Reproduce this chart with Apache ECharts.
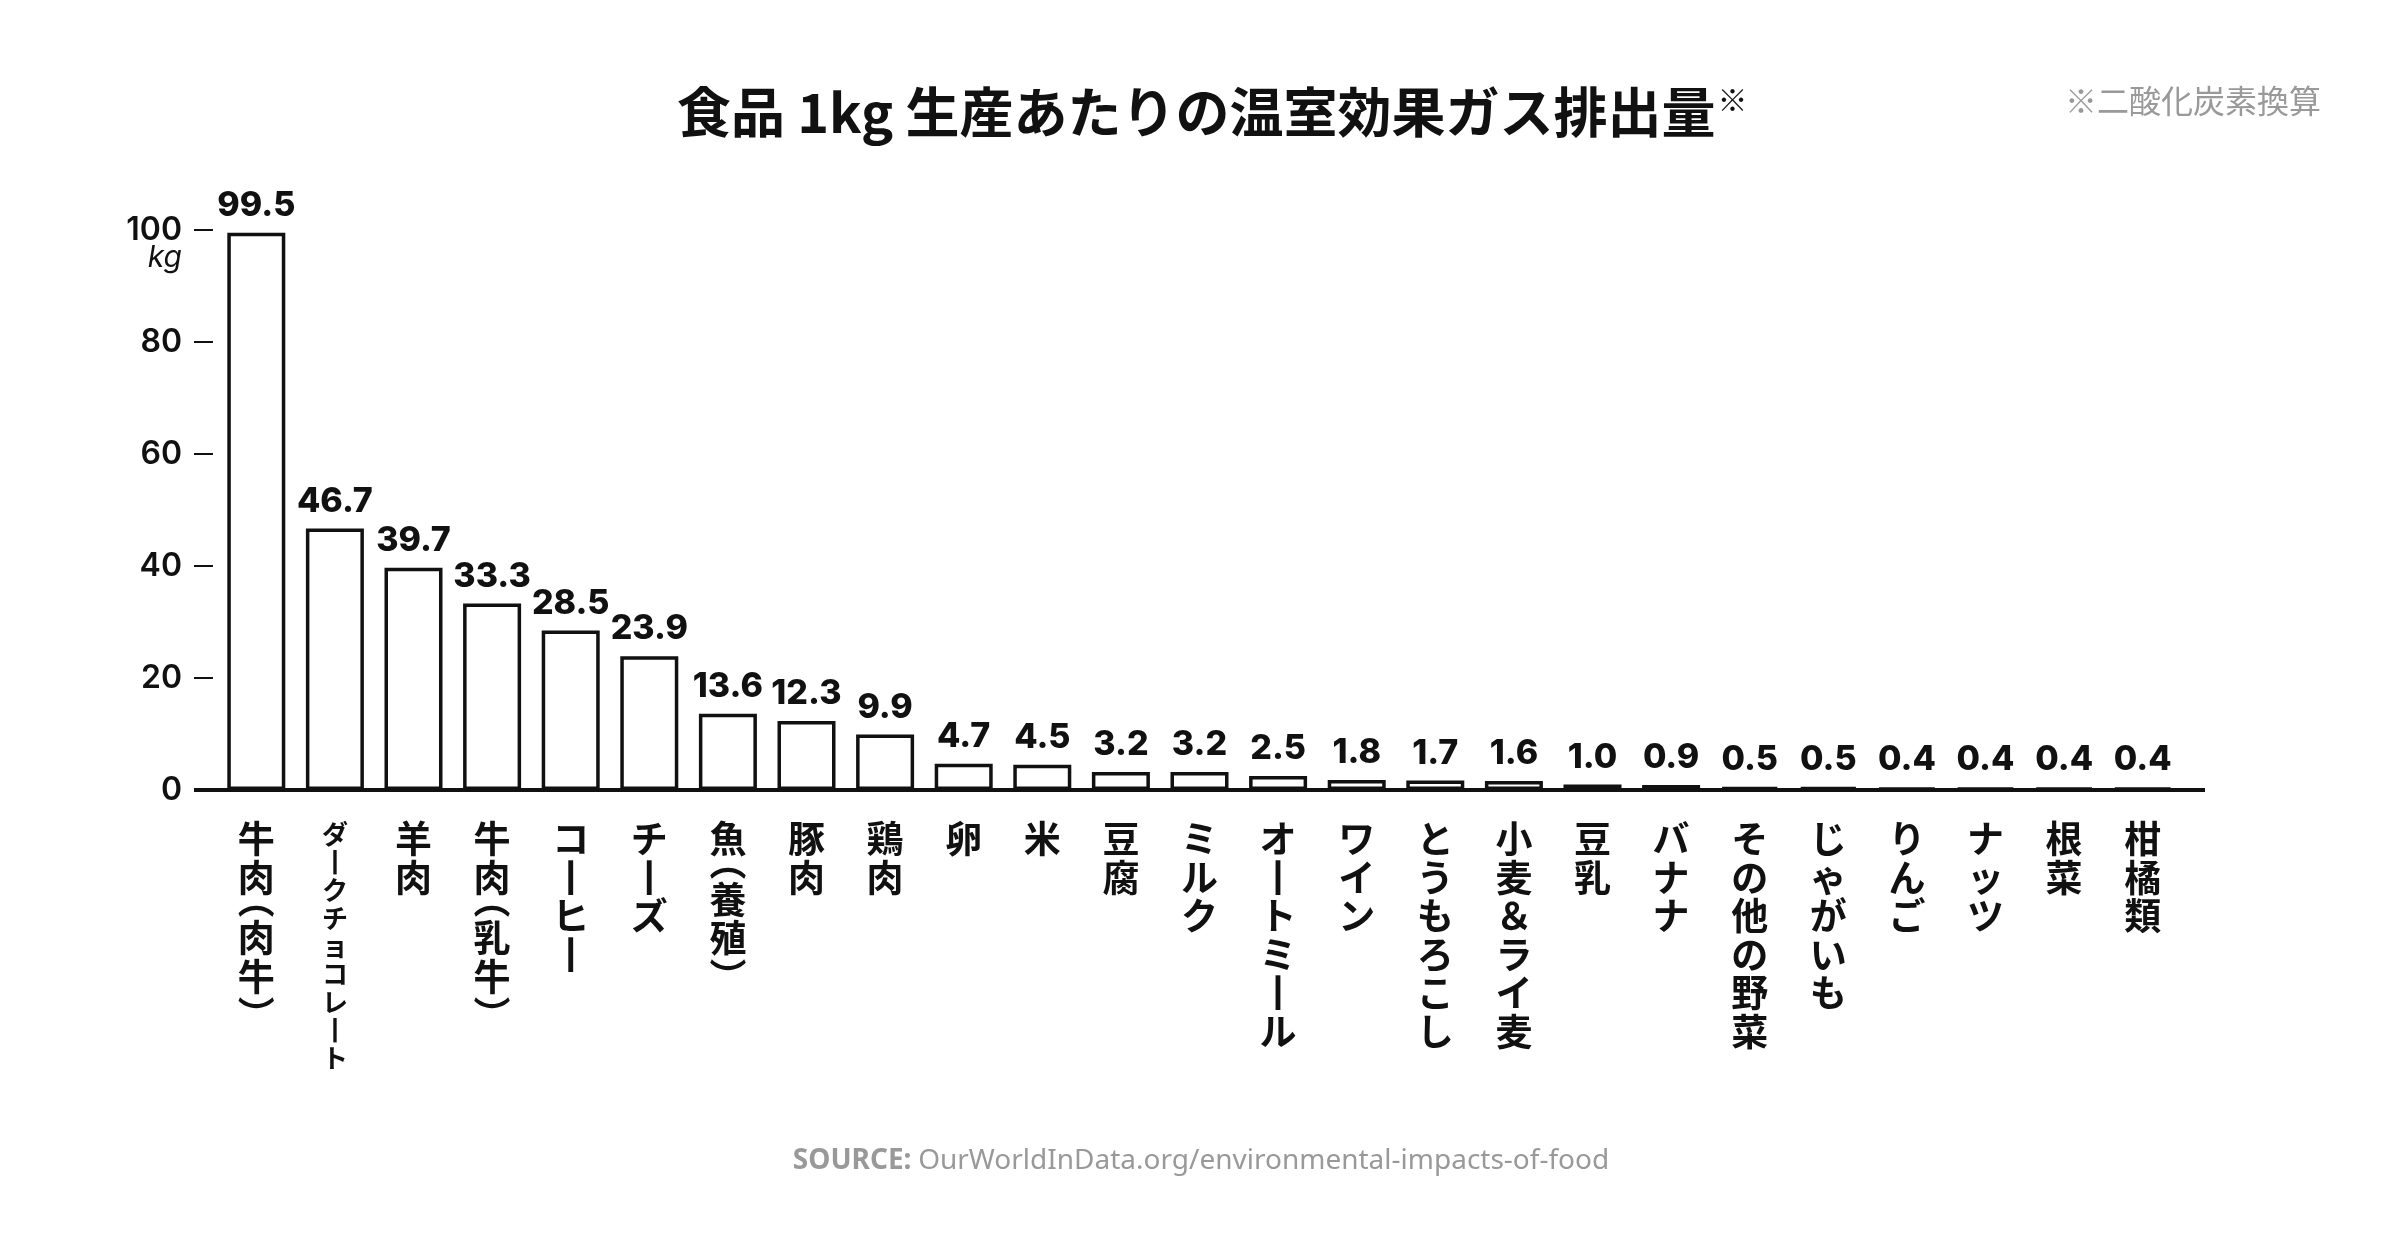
<!DOCTYPE html>
<html><head><meta charset="utf-8">
<script src="https://cdn.jsdelivr.net/npm/echarts@6/dist/echarts.min.js"></script>
<style>html,body{margin:0;padding:0;background:#fff}#c{width:2400px;height:1240px}</style>
</head><body><div id="c"></div>
<script>
const categories = ['牛肉(肉牛)','ダークチョコレート','羊肉','牛肉(乳牛)','コーヒー','チーズ','魚(養殖)','豚肉','鶏肉','卵','米','豆腐','ミルク','オートミール','ワイン','とうもろこし','小麦&ライ麦','豆乳','バナナ','その他の野菜','じゃがいも','りんご','ナッツ','根菜','柑橘類'];
const values = [99.5,46.7,39.7,33.3,28.5,23.9,13.6,12.3,9.9,4.7,4.5,3.2,3.2,2.5,1.8,1.7,1.6,1.0,0.9,0.5,0.5,0.4,0.4,0.4,0.4];
const yTickValues = [0,20,40,60,80,100];
const titleText = '食品 1kg 生産あたりの温室効果ガス排出量';
const noteText = '※二酸化炭素換算';
const sourceLabel = 'SOURCE:';
const sourceText = 'OurWorldInData.org/environmental-impacts-of-food';
const unitText = 'kg';

const GL = 217, GR = 218, GT = 230, GB = 450;
const W = 2400, H = 1240;
const INK = '#111';

function verticalize(s, style) {
  const map = {'ー':'丨','&':'＆'};
  return s.split('').map(c => {
    if (c === '(') return '{po|︵}';
    if (c === ')') return '{pc|︶}';
    return '{' + style + '|' + (map[c] || c) + '}';
  }).join('\n');
}

const chart = echarts.init(document.getElementById('c'));
chart.setOption({
  backgroundColor: '#fff',
  animation: false,
  title: [
    { text: '{t|' + titleText + '}{s|※}', left: 672, top: 80,
      textStyle: { rich: {
        t: { fontSize: 54, fontWeight: 'bold', fontFamily: 'Noto Sans CJK JP', color: INK },
        s: { fontSize: 30, fontWeight: 'bold', fontFamily: 'Noto Sans CJK JP', color: INK, verticalAlign: 'top', padding: [0,0,22,2] }
      } } },
    { text: noteText, left: 2060, top: 80,
      textStyle: { fontSize: 32, fontWeight: 'normal', fontFamily: 'Noto Sans CJK JP', color: '#999' } }
  ],
  grid: { left: GL, right: GR, top: GT, bottom: GB, containLabel: false },
  xAxis: {
    type: 'category', data: categories,
    axisLine: { show: false }, axisTick: { show: false },
    axisLabel: {
      interval: 0, margin: 30, color: INK,
      fontFamily: 'Noto Sans CJK JP', fontWeight: 'bold', fontSize: 37, lineHeight: 38.5,
      verticalAlign: 'top',
      formatter: function (v) {
        return verticalize(v, v === 'ダークチョコレート' ? 's' : 'n');
      },
      rich: {
        n: { fontFamily: 'Noto Sans CJK JP', fontWeight: 'bold', fontSize: 37, lineHeight: 38.5, color: INK },
        s: { fontFamily: 'Noto Sans CJK JP', fontWeight: 'bold', fontSize: 26, lineHeight: 28, color: INK },
        po: { fontFamily: 'Noto Sans CJK JP', fontWeight: 'bold', fontSize: 37, lineHeight: 22, padding: [0,0,16,0], color: INK },
        pc: { fontFamily: 'Noto Sans CJK JP', fontWeight: 'bold', fontSize: 37, lineHeight: 22, padding: [16,0,0,0], color: INK }
      }
    }
  },
  yAxis: {
    type: 'value', min: 0, max: 100, interval: 20, offset: 4,
    axisLine: { show: false },
    axisTick: { show: true, length: 19, lineStyle: { color: INK, width: 2 } },
    splitLine: { show: false },
    axisLabel: { margin: 31, color: INK, fontFamily: 'Inter', fontWeight: 600, fontSize: 32,
      customValues: yTickValues }
  },
  series: [{
    type: 'bar', data: values, barWidth: 58,
    itemStyle: { color: '#fff', borderColor: INK, borderWidth: 3.5 },
    label: { show: true, position: 'top', distance: 10, color: INK,
      fontFamily: 'Inter', fontWeight: 800, fontSize: 34,
      formatter: p => p.value.toFixed(1) }
  }],
  graphic: [
    { type: 'line', z: 100, shape: { x1: 194, y1: H - GB, x2: W - GR + 23, y2: H - GB },
      style: { stroke: INK, lineWidth: 4 } },
    { type: 'text', x: 182, y: 258, style: { text: unitText, align: 'right', verticalAlign: 'middle',
      fontFamily: 'Inter', fontStyle: 'italic', fontSize: 30, fill: INK } },
    { type: 'text', x: 1201, y: 1161, style: { rich: {
        b: { fontFamily: 'Noto Sans', fontWeight: 'bold', fontSize: 28, fill: '#999' },
        n: { fontFamily: 'Noto Sans', fontSize: 28, fill: '#999' } },
      text: '{b|' + sourceLabel + '}  {n|' + sourceText + '}', align: 'center', verticalAlign: 'middle' } }
  ]
});
</script></body></html>
